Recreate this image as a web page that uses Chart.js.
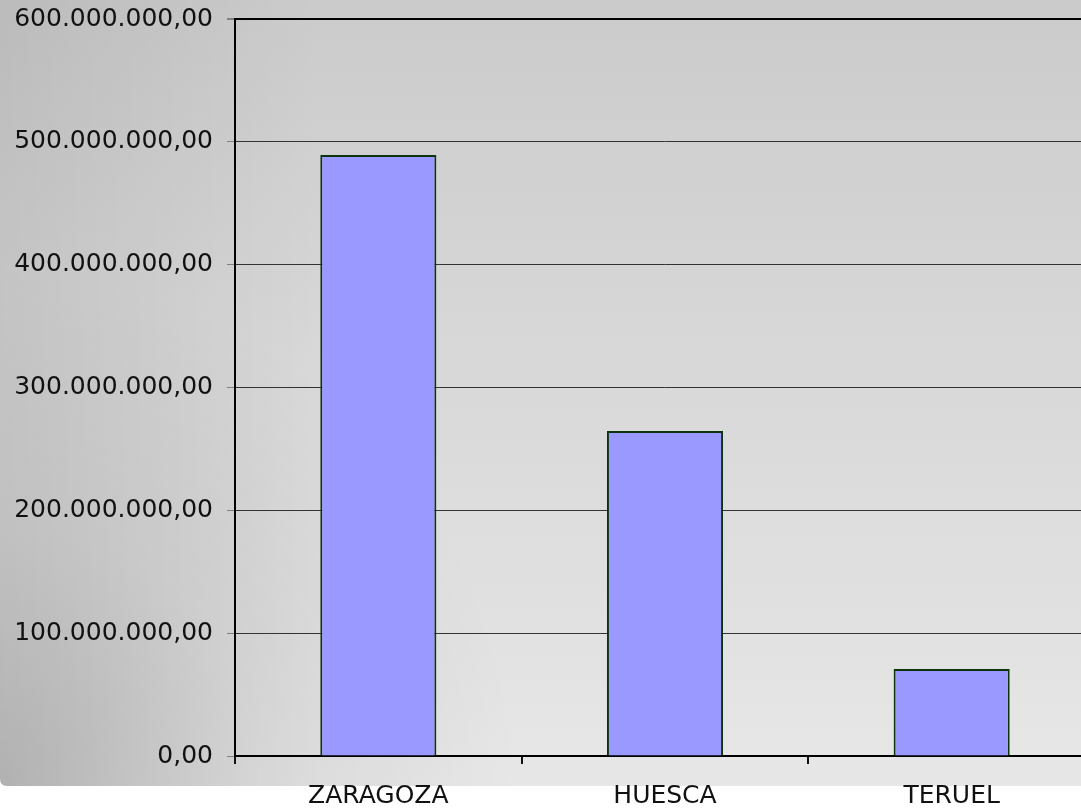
<!DOCTYPE html>
<html>
<head>
<meta charset="utf-8">
<script src="https://cdn.jsdelivr.net/npm/chart.js@4.4.1/dist/chart.umd.min.js"></script>
<style>
  html, body { margin: 0; padding: 0; background: #ffffff; overflow: hidden; width: 1081px; height: 809px; }
  #wrap { position: absolute; left: 0; top: 0; width: 1095px; height: 809px; }
  canvas { display: block; }
</style>
</head>
<body>
<div id="wrap"><canvas id="c" width="1095" height="809"></canvas></div>
<script>
const categories = ['ZARAGOZA', 'HUESCA', 'TERUEL'];
const values = [489300000, 264600000, 70800000];
const yMin = 0;
const yMax = 600000000;
const yStep = 100000000;

function fmtEs(v) {
  const parts = Math.round(v).toString().replace(/\B(?=(\d{3})+(?!\d))/g, '.');
  return parts + ',00';
}

const panelBg = {
  id: 'panelBg',
  beforeDraw(chart) {
    const ctx = chart.ctx;
    const W = chart.width, H = 786, r = 7;
    ctx.save();
    ctx.fillStyle = '#ffffff';
    ctx.fillRect(0, 0, chart.width, chart.height);
    ctx.beginPath();
    ctx.moveTo(0, 0);
    ctx.lineTo(W, 0);
    ctx.lineTo(W, H);
    ctx.lineTo(r, H);
    ctx.quadraticCurveTo(0, H, 0, H - r);
    ctx.closePath();
    ctx.clip();
    const g = ctx.createLinearGradient(0, 0, 0, H);
    g.addColorStop(0, '#cbcbcb');
    g.addColorStop(1, '#e7e7e7');
    ctx.fillStyle = g;
    ctx.fillRect(0, 0, W, H);
    const g2 = ctx.createLinearGradient(0, 0, 320, 0);
    g2.addColorStop(0, 'rgba(0,0,0,0.08)');
    g2.addColorStop(1, 'rgba(0,0,0,0)');
    ctx.fillStyle = g2;
    ctx.fillRect(0, 0, W, H);
    const g3 = ctx.createRadialGradient(0, H, 0, 0, H, 520);
    g3.addColorStop(0, 'rgba(0,0,0,0.17)');
    g3.addColorStop(0.5, 'rgba(0,0,0,0.06)');
    g3.addColorStop(1, 'rgba(0,0,0,0)');
    ctx.fillStyle = g3;
    ctx.fillRect(0, 0, W, H);
    ctx.restore();
  }
};

new Chart(document.getElementById('c'), {
  type: 'bar',
  data: {
    labels: categories,
    datasets: [{
      data: values,
      backgroundColor: '#9999ff',
      borderColor: '#0c330c',
      borderWidth: 2,
      barPercentage: 0.405,
      categoryPercentage: 1.0
    }]
  },
  options: {
    responsive: false,
    animation: false,
    devicePixelRatio: 1,
    layout: { padding: { top: 19, left: 0, right: 0, bottom: 0 } },
    plugins: { legend: { display: false }, tooltip: { enabled: false } },
    scales: {
      x: {
        afterFit(scale) { scale.height = 53; scale.paddingLeft = 0; scale.paddingRight = 0; },
        grid: {
          display: true,
          drawOnChartArea: false,
          drawTicks: true,
          tickLength: 8,
          tickColor: '#111111',
          lineWidth: 2,
          offset: true
        },
        border: { display: true, color: '#000000', width: 2 },
        ticks: {
          color: '#111111',
          padding: 17,
          maxRotation: 0,
          font: { family: 'DejaVu Sans', size: 25 }
        }
      },
      y: {
        min: yMin,
        max: yMax,
        afterFit(scale) { scale.width = 235; scale.paddingTop = 0; scale.paddingBottom = 0; },
        grid: {
          drawTicks: true,
          tickLength: 8,
          tickColor: '#808080',
          color: (c) => (c.tick && c.tick.value === yMax) ? '#000000' : '#333333',
          lineWidth: (c) => (c.tick && c.tick.value === yMax) ? 2 : 1
        },
        border: { display: true, color: '#000000', width: 2 },
        ticks: {
          stepSize: yStep,
          color: '#111111',
          padding: 14,
          font: { family: 'DejaVu Sans', size: 25 },
          callback: (v) => fmtEs(v)
        }
      }
    }
  },
  plugins: [panelBg]
});
</script>
</body>
</html>
